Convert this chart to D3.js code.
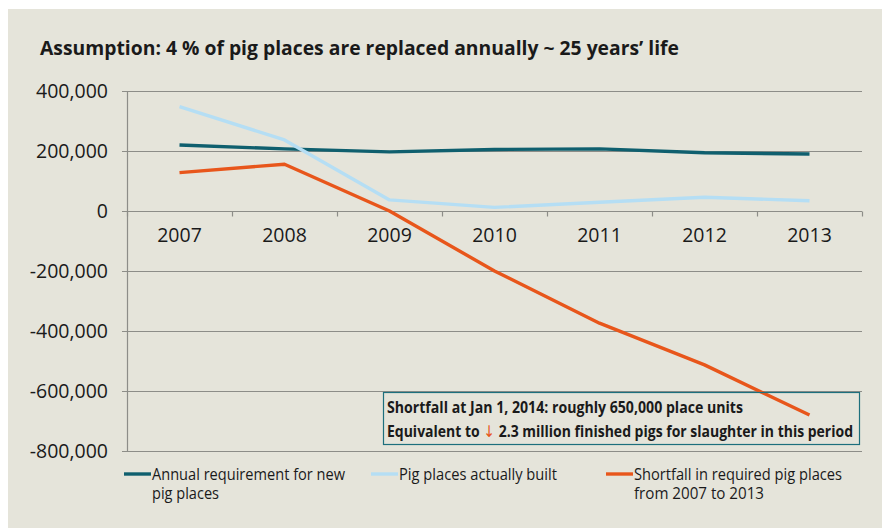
<!DOCTYPE html>
<meta charset="utf-8">
<script src="https://d3js.org/d3.v7.min.js"></script>
<style>
  body { margin: 0; background: #fff; }
  text { font-family: "Open Sans", sans-serif; fill: #1a1a1a; }
</style>
<div id="my_dataviz"></div>
<script>

// data
var years = ["2007", "2008", "2009", "2010", "2011", "2012", "2013"];
var requirement = [220000, 207000, 197000, 205000, 207000, 194000, 190000];
var built = [348000, 237000, 37000, 12000, 29000, 46000, 34000];
var shortfall = [128000, 156000, 0, -200000, -374000, -513000, -680000];
var yTicks = [400000, 200000, 0, -200000, -400000, -600000, -800000];

var series = [
  {name: ["Annual requirement for new", "pig places"], values: requirement, color: "#0f5f6e"},
  {name: ["Pig places actually built"], values: built, color: "#b5def4"},
  {name: ["Shortfall in required pig places", "from 2007 to 2013"], values: shortfall, color: "#e8561b"}
];

var W = 882, H = 528;
var plotLeft = 127, plotRight = 862, plotTop = 91, plotBottom = 451;

var svg = d3.select("#my_dataviz")
  .append("svg")
    .attr("width", W)
    .attr("height", H);

// panel background
svg.append("rect")
  .attr("x", 8).attr("y", 9)
  .attr("width", W - 8).attr("height", H - 9)
  .attr("fill", "#e5e4da");

// title
svg.append("text")
  .attr("x", 40).attr("y", 55)
  .attr("textLength", 639)
  .attr("lengthAdjust", "spacingAndGlyphs")
  .style("font-size", "19px")
  .style("font-weight", "bold")
  .text("Assumption: 4 % of pig places are replaced annually ~ 25 years\u2019 life");

var x = d3.scaleBand()
  .domain(years)
  .range([plotLeft, plotRight])
  .padding(0);

var y = d3.scaleLinear()
  .domain([-800000, 400000])
  .range([plotBottom, plotTop]);

// plain hyphen for negatives, like the original
var fmt = function(d) { return d3.format(",")(d).replace("\u2212", "-"); };

// gridlines + y labels
svg.selectAll("grid")
  .data(yTicks.filter(function(d) { return d !== 0; }))
  .enter()
  .append("line")
    .attr("x1", plotLeft - 5).attr("x2", plotRight)
    .attr("y1", function(d) { return y(d) + 0.5; })
    .attr("y2", function(d) { return y(d) + 0.5; })
    .attr("stroke", "#8d8d88")
    .attr("stroke-width", 1.2);

svg.selectAll("ylab")
  .data(yTicks)
  .enter()
  .append("text")
    .attr("x", 108)
    .attr("y", function(d) { return y(d) + 7; })
    .attr("text-anchor", "end")
    .style("font-size", "19.5px")
    .text(function(d) { return fmt(d); });

// y axis line
svg.append("line")
  .attr("x1", plotLeft + 0.5).attr("x2", plotLeft + 0.5)
  .attr("y1", plotTop).attr("y2", plotBottom)
  .attr("stroke", "#8d8d88").attr("stroke-width", 1.2);

// x axis at zero
var xAxis = svg.append("g")
  .attr("transform", "translate(0," + (y(0) + 0.5) + ")");
xAxis.append("line")
  .attr("x1", plotLeft - 5).attr("x2", plotRight)
  .attr("stroke", "#8d8d88").attr("stroke-width", 1.2);
xAxis.selectAll("tick")
  .data(years.concat(["end"]))
  .enter()
  .append("line")
    .attr("x1", function(d, i) { return plotLeft + i * x.bandwidth() + 0.5; })
    .attr("x2", function(d, i) { return plotLeft + i * x.bandwidth() + 0.5; })
    .attr("y1", 0).attr("y2", 5)
    .attr("stroke", "#8d8d88").attr("stroke-width", 1.2);
xAxis.selectAll("xlab")
  .data(years)
  .enter()
  .append("text")
    .attr("x", function(d) { return x(d) + x.bandwidth() / 2; })
    .attr("y", 30)
    .attr("text-anchor", "middle")
    .style("font-size", "19.5px")
    .text(function(d) { return d; });

// lines
var line = d3.line()
  .x(function(d, i) { return x(years[i]) + x.bandwidth() / 2; })
  .y(function(d) { return y(d); });

series.forEach(function(s) {
  svg.append("path")
    .datum(s.values)
    .attr("d", line)
    .attr("fill", "none")
    .attr("stroke", s.color)
    .attr("stroke-width", 3.4)
    .attr("stroke-linejoin", "round");
});

// annotation box
svg.append("rect")
  .attr("x", 383.5).attr("y", 392.5)
  .attr("width", 476).attr("height", 52)
  .attr("fill", "none")
  .attr("stroke", "#1d6f7d")
  .attr("stroke-width", 1.2);

svg.append("text")
  .attr("x", 387).attr("y", 413)
  .attr("textLength", 356)
  .attr("lengthAdjust", "spacingAndGlyphs")
  .style("font-size", "16px")
  .style("font-weight", "bold")
  .text("Shortfall at Jan 1, 2014: roughly 650,000 place units");

var t2 = svg.append("text")
  .attr("x", 387).attr("y", 437)
  .attr("textLength", 466)
  .attr("lengthAdjust", "spacingAndGlyphs")
  .style("font-size", "16px")
  .style("font-weight", "bold");
t2.append("tspan").text("Equivalent to ");
t2.append("tspan").style("fill", "#e8561b").style("font-family", "DejaVu Sans").style("font-weight", "normal").text("\u2193");
t2.append("tspan").text(" 2.3 million finished pigs for slaughter in this period");

// legend
var legX = [124, 371, 606];
var legW = [[193, 67], [158], [208, 130]];
series.forEach(function(s, i) {
  var g = svg.append("g").attr("transform", "translate(" + legX[i] + ",0)");
  g.append("line")
    .attr("x1", 0).attr("x2", 27)
    .attr("y1", 474).attr("y2", 474)
    .attr("stroke", s.color).attr("stroke-width", 3.4);
  s.name.forEach(function(n, j) {
    g.append("text")
      .attr("x", 28)
      .attr("y", 480 + j * 19)
      .attr("textLength", legW[i][j])
      .attr("lengthAdjust", "spacingAndGlyphs")
      .style("font-size", "16.5px")
      .text(n);
  });
});

</script>
